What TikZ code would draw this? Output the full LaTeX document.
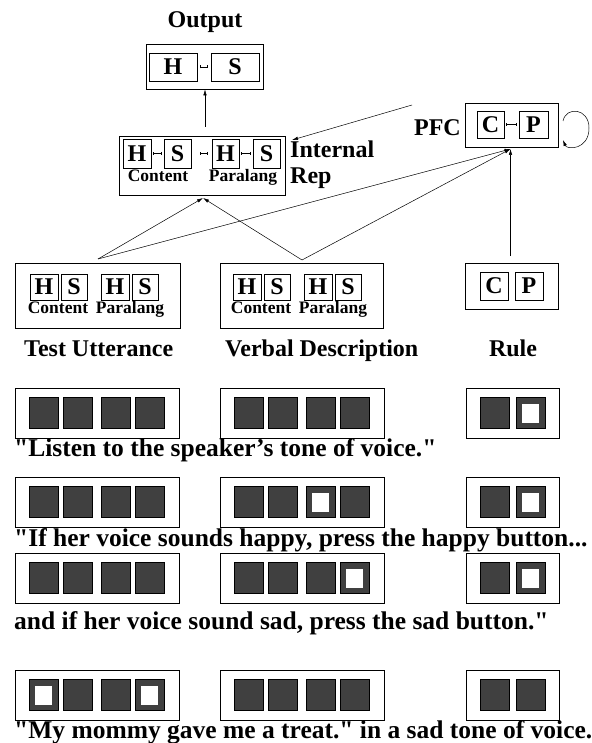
\documentclass[tikz,border=0pt]{standalone}
\usepackage{fontspec}
\setmainfont{Liberation Serif}[Ligatures=TeXOff]
\usetikzlibrary{arrows.meta}
\definecolor{sqgray}{RGB}{64,64,64}
\newcommand{\myrow}[2]{%
  \node[frame, minimum width=164pt, minimum height=50pt] (t#1) at (97,#2) {};
  \node[frame, minimum width=164pt, minimum height=50pt] (v#1) at (302,#2) {};
  \node[frame, minimum width=93pt, minimum height=50pt] (r#1) at (512.5,#2) {};
  \node[sq] (t#1s1) at (43.5,#2) {};
  \node[sq] (t#1s2) at (77.5,#2) {};
  \node[sq] (t#1s3) at (115.5,#2) {};
  \node[sq] (t#1s4) at (149.5,#2) {};
  \node[sq] (v#1s1) at (248.5,#2) {};
  \node[sq] (v#1s2) at (282.5,#2) {};
  \node[sq] (v#1s3) at (320.5,#2) {};
  \node[sq] (v#1s4) at (354.5,#2) {};
  \node[sq] (r#1s1) at (495,#2) {};
  \node[sq] (r#1s2) at (530.5,#2) {};
}
\begin{document}
\begin{tikzpicture}[x=1pt,y=-1pt,
  lbl/.style={font=\fontsize{24}{28}\selectfont\bfseries, inner sep=0pt},
  sent/.style={font=\fontsize{25.5}{30}\selectfont\bfseries, inner sep=0pt, anchor=base west},
  small/.style={font=\fontsize{17.5}{20}\selectfont\bfseries, inner sep=0pt, anchor=base},
  frame/.style={draw, line width=0.9pt, inner sep=0pt},
  letterbox/.style={draw, line width=0.8pt, inner sep=0pt, minimum height=#1,
     font=\fontsize{24}{28}\selectfont\bfseries},
  letterbox/.default=28pt,
  sq/.style={draw=black, fill=sqgray, line width=0.8pt, minimum width=29pt,
     minimum height=31pt, inner sep=0pt},
  wsq/.style={fill=white, minimum width=17pt, minimum height=19pt, inner sep=0pt},
  link/.style={{Bar[width=3pt]}-{Bar[width=3pt]}, line width=0.5pt},
  arr/.style={-{Latex[length=6pt,width=3.5pt]}, line width=0.5pt}
]
\fill[white] (0,0) rectangle (591,743);
\useasboundingbox (0,0) rectangle (591,743);

% ---------- Output ----------
\node[lbl, anchor=base] (outlbl) at (205,28) {Output};
\node[frame, minimum width=117pt, minimum height=45pt] (outbox) at (204.5,66.5) {};
\node[letterbox, minimum width=48pt] (oH) at (173,67) {H};
\node[letterbox, minimum width=48pt] (oS) at (235,67) {S};
\draw[link] ([xshift=3pt]oH.east) -- ([xshift=-3pt]oS.west);

% ---------- Internal Rep ----------
\node[frame, minimum width=166pt, minimum height=59pt] (ir) at (202,165.5) {};
\node[letterbox=29pt, minimum width=28pt] (iH1) at (137,153.5) {H};
\node[letterbox=29pt, minimum width=27pt] (iS1) at (177.5,153.5) {S};
\node[letterbox=29pt, minimum width=27pt] (iH2) at (225.5,153.5) {H};
\node[letterbox=29pt, minimum width=27pt] (iS2) at (266.5,153.5) {S};
\draw[link] ([xshift=2pt]iH1.east) -- ([xshift=-2pt]iS1.west);
\draw[link] ([xshift=9pt]iS1.east) -- ([xshift=-4pt]iH2.west);
\draw[link] ([xshift=2pt]iH2.east) -- ([xshift=-2pt]iS2.west);
\node[small] (iCont) at (158,182) {Content};
\node[small] (iPara) at (243,182) {Paralang};
\node[lbl, anchor=base west] (irlbl1) at (290,158) {Internal};
\node[lbl, anchor=base west] (irlbl2) at (290,184) {Rep};

\coordinate (irTop) at (205,127);
\draw[arr] (irTop) -- (irTop |- outbox.south);

% ---------- PFC ----------
\node[frame, minimum width=93pt, minimum height=44pt] (pfc) at (511.5,125) {};
\node[letterbox=27pt, minimum width=27pt] (pC) at (490.5,124.5) {C};
\node[letterbox=27pt, minimum width=29pt] (pP) at (533.5,124.5) {P};
\draw[link] ([xshift=2pt]pC.east) -- ([xshift=-2pt]pP.west);
\node[lbl, anchor=base east] (pfclbl) at (461,136) {PFC};
\coordinate (loopA) at (563,121);
\coordinate (loopM) at (589,128);
\coordinate (loopB) at (563,140);
\draw[arr] (loopA) .. controls (566,106) and (589,108) .. (loopM)
  .. controls (589,150) and (567,150) .. (loopB);
\coordinate (pfcFrom) at (412,105);
\coordinate (irIn) at (292,140);
\draw[arr] (pfcFrom) -- (irIn);

% ---------- Test Utterance / Verbal Description / Rule ----------
\node[frame, minimum width=165pt, minimum height=65pt] (tu) at (97.5,295.5) {};
\node[letterbox=26pt, minimum width=28pt] (tH1) at (44,287) {H};
\node[letterbox=26pt, minimum width=26pt] (tS1) at (74,287) {S};
\node[letterbox=26pt, minimum width=28pt] (tH2) at (115,287) {H};
\node[letterbox=26pt, minimum width=26pt] (tS2) at (145,287) {S};
\node[small] (tCont) at (58,313) {Content};
\node[small] (tPara) at (130,313) {Paralang};
\node[lbl, anchor=base west] (tulbl) at (24,356) {Test Utterance};

\node[frame, minimum width=163pt, minimum height=65pt] (vd) at (301.5,295.5) {};
\node[letterbox=26pt, minimum width=28pt] (vH1) at (247,287) {H};
\node[letterbox=26pt, minimum width=26pt] (vS1) at (277,287) {S};
\node[letterbox=26pt, minimum width=28pt] (vH2) at (318,287) {H};
\node[letterbox=26pt, minimum width=26pt] (vS2) at (348,287) {S};
\node[small] (vCont) at (261,313) {Content};
\node[small] (vPara) at (333,313) {Paralang};
\node[lbl, anchor=base west] (vdlbl) at (225,356) {Verbal Description};

\node[frame, minimum width=93pt, minimum height=46pt] (ru) at (511.5,286) {};
\node[letterbox=28pt, minimum width=28pt] (rC) at (494,286) {C};
\node[letterbox=28pt, minimum width=28pt] (rP) at (529,286) {P};
\node[lbl, anchor=base] (rulbl) at (513,356) {Rule};

% ---------- connectors ----------
\coordinate (tuTop) at (98,259);
\coordinate (vdTop) at (302,260);
\coordinate (apex) at (203,198);
\coordinate (pfcIn) at (510.5,149);
\coordinate (ruTop) at (510.5,256);
\draw[arr] (tuTop) -- (apex);
\draw[arr] (vdTop) -- (apex);
\draw[arr] (tuTop) -- (pfcIn);
\draw[arr] (vdTop) -- (pfcIn);
\draw[arr] (ruTop) -- (pfcIn);

% ---------- rows ----------
\myrow{1}{413}
\myrow{2}{502}
\myrow{3}{578}
\myrow{4}{695}
\node[wsq] (r1w) at (r1s2) {};
\node[wsq] (v2w) at (v2s3) {};
\node[wsq] (r2w) at (r2s2) {};
\node[wsq] (v3w) at (v3s4) {};
\node[wsq] (r3w) at (r3s2) {};
\node[wsq] (t4w1) at (t4s1) {};
\node[wsq] (t4w4) at (t4s4) {};

\node[sent] (sent1) at (14,456) {"Listen to the speaker’s tone of voice."};
\node[sent] (sent2) at (14,546) {"If her voice sounds happy, press the happy button...};
\node[sent] (sent3) at (14,629) {and if her voice sound sad, press the sad button."};
\node[sent] (sent4) at (14,738) {"My mommy gave me a treat." in a sad tone of voice.};
\end{tikzpicture}
\end{document}
